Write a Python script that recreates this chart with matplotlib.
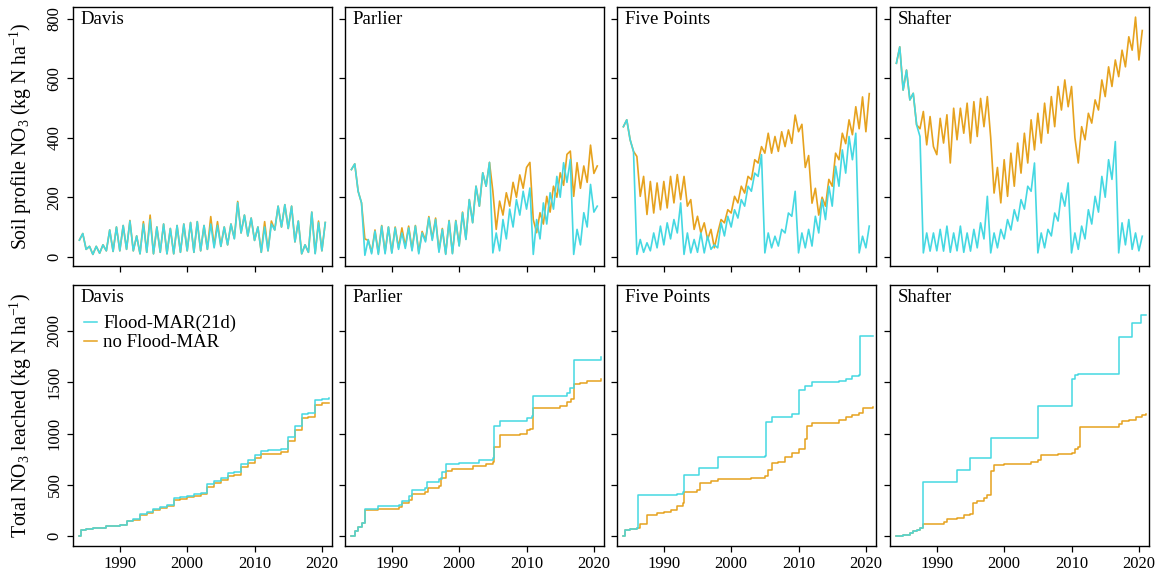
#!/usr/bin/env python3

import numpy as np
import matplotlib
matplotlib.use("Agg")
import matplotlib.pyplot as plt

plt.rcParams.update({
    "font.family": "serif",
    "font.serif": ["Liberation Serif", "DejaVu Serif"],
    "mathtext.fontset": "custom",
    "mathtext.rm": "Liberation Serif",
    "mathtext.it": "Liberation Serif:italic",
    "axes.linewidth": 1.0,
})

# ---------------------------------------------------------
# data
# ---------------------------------------------------------
sites = ["Davis", "Parlier", "Five Points", "Shafter"]
label_mar = "Flood-MAR(21d)"
label_no = "no Flood-MAR"

# soil profile NO3, two readings per year (Jan, Jul) 1984-2020
years_top = np.arange(1984, 2021)

davis_mar = [56, 78, 25, 35, 8, 35, 12, 40, 20, 90, 18, 100, 20, 105, 25, 120,
             20, 70, 10, 110, 15, 125, 10, 100, 15, 110, 10, 95, 10, 105, 15, 110,
             20, 115, 15, 118, 20, 105, 25, 110, 30, 105, 35, 100, 40, 110, 60, 182,
             80, 140, 70, 130, 55, 100, 15, 100, 20, 110, 90, 170, 100, 175, 95, 170,
             50, 120, 10, 40, 15, 150, 10, 115, 20, 115]
davis_no = [56, 78, 25, 35, 8, 35, 12, 40, 20, 90, 18, 100, 20, 105, 25, 122,
            20, 70, 10, 118, 15, 140, 10, 100, 15, 110, 10, 95, 10, 105, 15, 110,
            20, 115, 15, 118, 20, 105, 25, 135, 35, 118, 35, 100, 40, 110, 62, 186,
            80, 140, 70, 130, 55, 100, 15, 118, 20, 120, 90, 170, 100, 175, 95, 170,
            50, 120, 10, 40, 15, 150, 12, 120, 20, 115]

parlier_mar = [293, 312, 220, 181, 5, 58, 10, 86, 8, 103, 10, 100, 12, 97, 25, 80,
               28, 97, 20, 103, 10, 80, 50, 131, 55, 125, 15, 92, 8, 120, 10, 120,
               36, 148, 58, 192, 114, 237, 170, 282, 237, 317, 13, 80, 20, 125, 60, 160,
               100, 192, 140, 220, 160, 231, 8, 125, 60, 181, 110, 215, 160, 270, 200, 316,
               250, 327, 8, 92, 40, 148, 100, 243, 150, 170]
parlier_no = [293, 312, 220, 181, 60, 55, 15, 90, 12, 105, 15, 100, 15, 100, 30, 97,
              35, 103, 25, 105, 15, 85, 55, 135, 60, 130, 20, 95, 10, 122, 12, 122,
              38, 150, 60, 192, 115, 237, 170, 282, 237, 317, 220, 92, 187, 140, 215, 170,
              250, 200, 275, 230, 300, 317, 125, 81, 148, 110, 203, 150, 237, 200, 282, 240,
              344, 355, 203, 316, 230, 305, 250, 375, 280, 305]

fivepoints_mar = [437, 460, 393, 354, 8, 58, 15, 47, 20, 80, 30, 103, 40, 114, 60, 125,
                  80, 181, 8, 80, 13, 58, 15, 80, 13, 69, 25, 40, 30, 114, 70, 136,
                  100, 158, 130, 192, 170, 237, 220, 281, 270, 343, 13, 80, 30, 69, 36, 92,
                  80, 147, 136, 220, 13, 80, 30, 92, 36, 136, 80, 192, 125, 237, 170, 304,
                  237, 359, 281, 404, 326, 415, 13, 69, 30, 103]
fivepoints_no = [437, 460, 393, 354, 337, 203, 270, 142, 253, 147, 248, 158, 253, 164, 270, 181,
                 276, 192, 270, 170, 192, 92, 136, 80, 114, 58, 92, 30, 80, 125, 114, 158,
                 147, 203, 181, 237, 214, 270, 259, 326, 315, 370, 348, 415, 348, 404, 354, 420,
                 370, 426, 381, 476, 420, 445, 300, 340, 180, 230, 140, 200, 170, 260, 237, 348,
                 326, 415, 380, 460, 410, 504, 430, 537, 420, 548]

shafter_mar = [650, 705, 560, 627, 527, 549, 443, 404, 13, 80, 19, 80, 20, 92, 19, 103,
               15, 80, 20, 103, 15, 80, 19, 92, 30, 114, 60, 203, 13, 80, 30, 92,
               60, 125, 90, 158, 120, 192, 160, 237, 220, 315, 13, 80, 30, 92, 70, 147,
               120, 214, 170, 248, 13, 80, 25, 103, 60, 158, 110, 203, 150, 270, 200, 326,
               260, 387, 13, 114, 40, 125, 25, 80, 20, 69]
shafter_no = [650, 705, 560, 627, 527, 549, 443, 430, 488, 376, 471, 370, 343, 465, 382, 477,
              315, 499, 393, 499, 415, 516, 382, 521, 404, 532, 437, 538, 400, 214, 300, 181,
              326, 203, 348, 237, 382, 281, 415, 315, 460, 359, 482, 382, 516, 415, 538, 437,
              572, 493, 594, 504, 572, 400, 315, 437, 393, 482, 449, 527, 493, 594, 538, 638,
              572, 661, 605, 694, 638, 739, 694, 805, 661, 760]

# cumulative NO3 leached: time of step, level after step
davis_mar_t = [1984.0, 1984.2, 1985, 1986, 1988, 1990, 1991, 1992, 1993, 1994, 1995, 1996,
               1997, 1998, 1999, 2000, 2001, 2002, 2003, 2004, 2005, 2006, 2007, 2008,
               2009, 2010, 2011, 2012, 2014, 2015, 2016, 2017, 2018, 2019, 2020, 2021]
davis_mar_v = [0, 60, 75, 85, 95, 105, 150, 165, 220, 235, 265, 285,
               305, 370, 380, 395, 410, 425, 510, 540, 570, 620, 630, 700,
               740, 790, 830, 840, 850, 970, 1070, 1190, 1200, 1330, 1340, 1345]
davis_no_t = davis_mar_t
davis_no_v = [0, 60, 75, 85, 95, 105, 145, 160, 210, 225, 255, 275,
              295, 350, 365, 380, 395, 410, 480, 515, 545, 590, 600, 670,
              715, 760, 800, 805, 820, 930, 1030, 1150, 1165, 1280, 1295, 1300]

parlier_mar_t = [1984.0, 1984.5, 1985, 1985.5, 1986, 1988, 1991, 1991.5, 1992.5, 1993,
                 1995, 1995.2, 1997, 1997.5, 1998, 2000, 2003, 2005, 2005.1, 2006,
                 2010, 2010.8, 2011, 2016, 2016.5, 2017, 2021]
parlier_mar_v = [0, 50, 90, 130, 270, 290, 300, 340, 390, 450,
                 470, 530, 560, 630, 700, 715, 740, 760, 1070, 1120,
                 1150, 1170, 1370, 1400, 1445, 1720, 1750]
parlier_no_t = [1984.0, 1984.5, 1985, 1985.5, 1986, 1988, 1991, 1991.5, 1992.5, 1993,
                1995, 1995.3, 1997, 1997.3, 1998, 1999, 2002, 2004, 2005, 2005.2,
                2006, 2009, 2010, 2010.5, 2011, 2015, 2016, 2016.6, 2017, 2018,
                2019, 2021]
parlier_no_v = [0, 50, 90, 130, 255, 270, 285, 320, 350, 415,
                430, 470, 490, 565, 640, 655, 680, 700, 720, 870,
                985, 1000, 1030, 1045, 1250, 1270, 1310, 1340, 1480, 1495,
                1510, 1530]

fivepoints_mar_t = [1984.0, 1984.3, 1985, 1986, 1986.1, 1990, 1992, 1992.8, 1993, 1995,
                    1995.2, 1998, 1998.1, 2005, 2005.1, 2006, 2009, 2010, 2010.1, 2011,
                    2012, 2016, 2017, 2018, 2019, 2019.1, 2021]
fivepoints_mar_v = [0, 60, 70, 80, 400, 405, 415, 430, 595, 600,
                    660, 670, 775, 780, 1110, 1160, 1195, 1205, 1420, 1465,
                    1500, 1510, 1530, 1560, 1570, 1950, 1955]
fivepoints_no_t = [1984.0, 1984.3, 1985, 1986, 1986.5, 1987.5, 1989, 1990, 1991, 1992,
                   1992.8, 1993, 1995, 1995.3, 1997, 1998, 2000, 2003, 2005, 2005.5,
                   2006, 2007, 2008, 2009, 2010, 2011, 2011.3, 2012, 2016, 2017,
                   2018, 2019, 2019.5, 2021]
fivepoints_no_v = [0, 60, 70, 80, 120, 210, 225, 240, 260, 290,
                   320, 430, 450, 515, 540, 555, 560, 570, 590, 650,
                   710, 720, 770, 810, 850, 950, 1075, 1105, 1130, 1160,
                   1180, 1200, 1245, 1260]

shafter_mar_t = [1984.0, 1985, 1986, 1986.5, 1987, 1987.5, 1988, 1993, 1995, 1998,
                 2005, 2010, 2010.5, 2011, 2017, 2019, 2020.3, 2021]
shafter_mar_v = [0, 15, 30, 50, 65, 80, 525, 650, 765, 960,
                 1270, 1530, 1570, 1580, 1945, 2080, 2150, 2155]
shafter_no_t = [1984.0, 1985, 1986, 1986.5, 1987, 1987.5, 1988, 1989, 1991, 1991.5,
                1993, 1994, 1995, 1995.3, 1996, 1997, 1997.5, 1998, 1998.5, 2000,
                2004, 2005, 2005.5, 2008, 2010, 2010.5, 2011, 2011.3, 2017, 2017.5,
                2018.5, 2019.5, 2020.5, 2021]
shafter_no_v = [0, 15, 30, 50, 65, 80, 115, 120, 135, 165,
                175, 210, 220, 320, 340, 370, 400, 640, 690, 700,
                720, 740, 790, 800, 810, 850, 865, 1060, 1090, 1120,
                1135, 1160, 1185, 1190]

soil_mar = [davis_mar, parlier_mar, fivepoints_mar, shafter_mar]
soil_no = [davis_no, parlier_no, fivepoints_no, shafter_no]
leach_mar = [(davis_mar_t, davis_mar_v), (parlier_mar_t, parlier_mar_v),
             (fivepoints_mar_t, fivepoints_mar_v), (shafter_mar_t, shafter_mar_v)]
leach_no = [(davis_no_t, davis_no_v), (parlier_no_t, parlier_no_v),
            (fivepoints_no_t, fivepoints_no_v), (shafter_no_t, shafter_no_v)]

# ---------------------------------------------------------
# plot
# ---------------------------------------------------------
c_mar = "#45d8e2"
c_no = "#e6a21e"
W, H = 1164, 583

fig = plt.figure(figsize=(W / 100, H / 100), dpi=100)

lefts = [73, 345, 617, 890]
pw = 259
rows = [(7, 266), (285, 546)]

t_top = np.repeat(years_top, 2) + np.tile([0.0, 0.5], len(years_top))

for r, (top, bot) in enumerate(rows):
    for c, x0 in enumerate(lefts):
        ax = fig.add_axes([x0 / W, (H - bot) / H, pw / W, (bot - top) / H])
        if r == 0:
            ax.plot(t_top, soil_no[c], color=c_no, lw=1.2)
            ax.plot(t_top, soil_mar[c], color=c_mar, lw=1.2)
            ax.set_ylim(-31, 839)
            ax.set_yticks([0, 200, 400, 600, 800])
        else:
            tn, vn = leach_no[c]
            tm, vm = leach_mar[c]
            ax.plot(tn, vn, color=c_no, lw=1.1, drawstyle="steps-post", label=label_no)
            ax.plot(tm, vm, color=c_mar, lw=1.1, drawstyle="steps-post", label=label_mar)
            ax.set_ylim(-95, 2447)
            ax.set_yticks([0, 500, 1000, 1500, 2000])

        ax.set_xlim(1983.05, 2021.5)
        ax.set_xticks([1990, 2000, 2010, 2020])
        ax.tick_params(direction="out", length=4.5, width=0.9, labelsize=12, pad=3)
        for lab in ax.get_yticklabels():
            lab.set_rotation(90)
            lab.set_va("center")
        if r == 0:
            ax.tick_params(labelbottom=False)
        if c > 0:
            ax.tick_params(labelleft=False)

        ax.text(0.03, 0.985, sites[c], transform=ax.transAxes, ha="left", va="top",
                fontsize=13.5)

        if r == 1 and c == 0:
            h, l = ax.get_legend_handles_labels()
            ax.legend(h[::-1], l[::-1], loc="upper left", bbox_to_anchor=(-0.01, 0.935),
                      frameon=False, fontsize=13.5, handlelength=0.7,
                      handletextpad=0.35, labelspacing=0.1, borderaxespad=0.3)
        if c == 0:
            if r == 0:
                ax.set_ylabel(r"Soil profile NO$_3$ (kg N ha$^{-1}$)", fontsize=14.2)
            else:
                ax.set_ylabel(r"Total NO$_3$ leached (kg N ha$^{-1}$)", fontsize=14.2)
            ax.yaxis.set_label_coords(-0.152, 0.5)

fig.savefig("out.png", dpi=100)
